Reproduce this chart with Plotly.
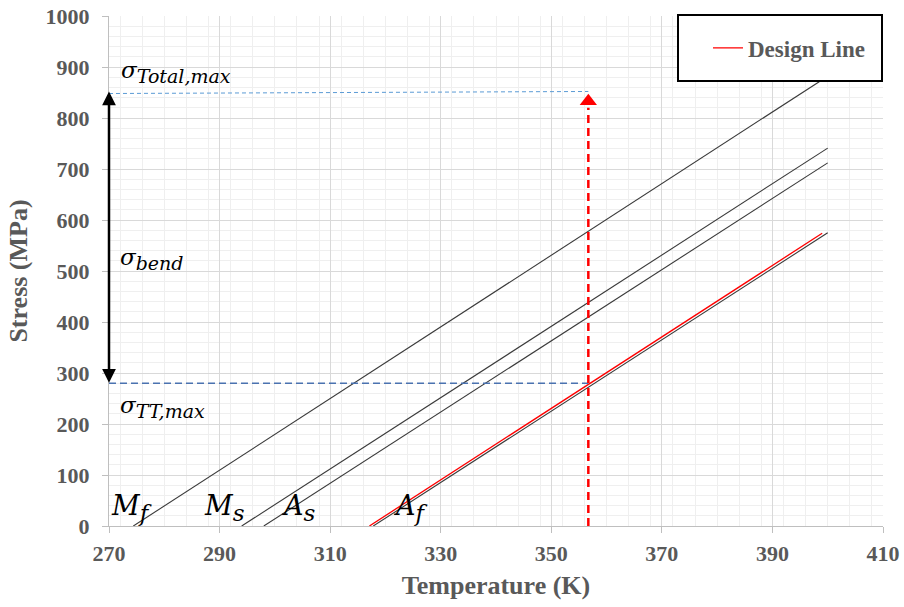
import plotly.graph_objects as go

# Transformation lines (temperature K, stress MPa) endpoints
mf_T = [274.4, 400.0]; mf_S = [0, 882]
ms_T = [294.0, 400.0]; ms_S = [0, 741]
as_T = [298.0, 400.0]; as_S = [0, 712]
af_T = [317.8, 400.0]; af_S = [0, 575]
design_T = [317.1, 399.0]; design_S = [0, 574]

# Design point
T_design = 356.7
sigma_tt_max = 280
sigma_total_max = [848, 852]
arrow_base = 820
arrow_tip_center = 833

x_ticks = [270, 290, 310, 330, 350, 370, 390, 410]
y_ticks = [0, 100, 200, 300, 400, 500, 600, 700, 800, 900, 1000]

fig = go.Figure()
line_col = "#3a3a3a"
for T, S in [(mf_T, mf_S), (ms_T, ms_S), (as_T, as_S), (af_T, af_S)]:
    fig.add_trace(go.Scatter(x=T, y=S, mode="lines", line=dict(color=line_col, width=1.1),
                             showlegend=False, hoverinfo="skip"))
fig.add_trace(go.Scatter(x=design_T, y=design_S, mode="lines", name="Design Line",
                         line=dict(color="#ff0000", width=1.3)))

# horizontal dashed lines
fig.add_trace(go.Scatter(x=[270, T_design], y=[sigma_tt_max, sigma_tt_max], mode="lines",
                         line=dict(color="#4a72b0", width=1.6, dash="7px,4px"),
                         showlegend=False, hoverinfo="skip"))
fig.add_trace(go.Scatter(x=[270, T_design], y=sigma_total_max, mode="lines",
                         line=dict(color="#5b9bd5", width=1, dash="4px,3px"),
                         showlegend=False, hoverinfo="skip"))
# red vertical dashed arrow
fig.add_trace(go.Scatter(x=[T_design, T_design], y=[0, arrow_base], mode="lines",
                         line=dict(color="#ff0000", width=2.5, dash="8px,5px"),
                         showlegend=False, hoverinfo="skip"))
fig.add_trace(go.Scatter(x=[T_design], y=[arrow_tip_center], mode="markers",
                         marker=dict(symbol="triangle-up", size=15, color="#ff0000"),
                         showlegend=False, hoverinfo="skip", cliponaxis=False))

annotations = [
    dict(x=270, y=852, ax=270, ay=278, xref="x", yref="y", axref="x", ayref="y",
         text="", showarrow=True, arrowhead=2, arrowside="end+start", arrowsize=1.1,
         arrowwidth=2.5, arrowcolor="#000000", standoff=0, startstandoff=0),
]
sig_font = dict(family="DejaVu Serif", size=23, color="#000000", style="italic")
ma_font = dict(family="DejaVu Serif", size=27, color="#000000", style="italic")
sub_sig = "<sub><span style='font-size:19px'>%s</span></sub>"
sub_ma = "<sub><span style='font-size:23px'>%s</span></sub>"
labels = [
    (271.8, 890, "σ" + sub_sig % "Total,max", sig_font),
    (271.6, 523, "σ" + sub_sig % "bend", sig_font),
    (271.6, 233, "σ" + sub_sig % "TT,max", sig_font),
    (270.0, 36, "M" + sub_ma % "f", ma_font),
    (286.8, 36, "M" + sub_ma % "s", ma_font),
    (300.8, 36, "A" + sub_ma % "s", ma_font),
    (321.0, 36, "A" + sub_ma % "f", ma_font),
]
for x, y, t, f in labels:
    annotations.append(dict(x=x, y=y, xref="x", yref="y", text=t, showarrow=False,
                            xanchor="left", yanchor="middle", font=f))

axis_font = dict(family="Liberation Serif", size=22, color="#595959", weight="bold")
title_font = dict(family="Liberation Serif", size=26, color="#595959", weight="bold")

fig.update_layout(
    width=904, height=607,
    margin=dict(l=109, r=21, t=16, b=81),
    paper_bgcolor="white", plot_bgcolor="white",
    annotations=annotations,
    shapes=[dict(type="rect", xref="paper", yref="paper",
                 x0=(678 - 109) / 774, x1=(882 - 109) / 774,
                 y0=(526 - 81) / 510, y1=(526 - 15) / 510,
                 line=dict(color="#000000", width=2), fillcolor="white", layer="above")],
    legend=dict(x=(708 - 109) / 774, y=(526 - 48) / 510, xanchor="left", yanchor="middle",
                bgcolor="rgba(0,0,0,0)", borderwidth=0,
                font=dict(family="Liberation Serif", size=23, color="#595959", weight="bold")),
    xaxis=dict(range=[270, 410], tickvals=x_ticks, showline=True, linecolor="#bfbfbf",
               linewidth=1, ticks="outside", ticklen=6, tickcolor="#bfbfbf",
               gridcolor="#d9d9d9", gridwidth=1, zeroline=False, tickfont=axis_font,
               ticklabelstandoff=2, automargin=False,
               minor=dict(dtick=4, showgrid=True, gridcolor="#efefef", gridwidth=1),
               title=dict(text="Temperature (K)", font=title_font, standoff=10)),
    yaxis=dict(range=[0, 1000], tickvals=y_ticks, showline=True, linecolor="#bfbfbf",
               linewidth=1, ticks="outside", ticklen=6, tickcolor="#bfbfbf",
               gridcolor="#d9d9d9", gridwidth=1, zeroline=False, tickfont=axis_font,
               ticklabelstandoff=8, automargin=False,
               minor=dict(dtick=20, showgrid=True, gridcolor="#efefef", gridwidth=1),
               title=dict(text="Stress (MPa)", font=title_font, standoff=10)),
)
fig.write_html("out.html")
